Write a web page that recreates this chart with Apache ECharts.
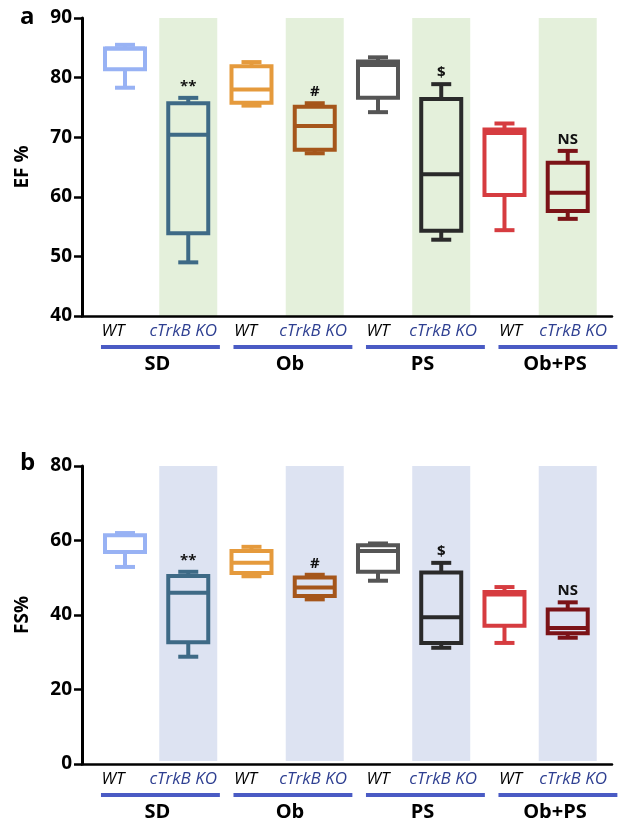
<!DOCTYPE html>
<html><head><meta charset="utf-8">
<script src="https://cdn.jsdelivr.net/npm/echarts@6/dist/echarts.min.js"></script>
<style>html,body{margin:0;padding:0;background:#fff}#c{width:622px;height:824px}</style>
</head><body><div id="c"></div>
<script>
// ---------- data ----------
const categories = ['WT','cTrkB KO','WT','cTrkB KO','WT','cTrkB KO','WT','cTrkB KO'];
const groups = ['SD','Ob','PS','Ob+PS'];
const annotations = ['', '**', '', '#', '', '$', '', 'NS'];
const efTicks = [40, 50, 60, 70, 80, 90];
const fsTicks = [0, 20, 40, 60, 80];
// [min, Q1, median, Q3, max]
const efBoxes = [
  [78.3, 81.4, 84.9, 84.9, 85.5],
  [49.0, 53.9, 70.4, 75.7, 76.6],
  [75.3, 75.8, 78.0, 81.9, 82.6],
  [67.3, 67.9, 71.9, 75.1, 75.7],
  [74.2, 76.6, 82.1, 82.7, 83.4],
  [52.8, 54.3, 63.8, 76.4, 78.9],
  [54.4, 60.3, 70.7, 71.3, 72.3],
  [56.3, 57.6, 60.7, 65.7, 67.7]
];
const fsBoxes = [
  [52.9, 56.9, 56.9, 61.4, 62.0],
  [28.8, 32.7, 46.0, 50.5, 51.6],
  [50.4, 51.3, 54.0, 57.2, 58.3],
  [44.2, 45.1, 47.4, 50.1, 50.8],
  [49.2, 51.6, 57.2, 58.7, 59.2],
  [31.2, 32.5, 39.4, 51.4, 54.0],
  [32.5, 37.1, 45.5, 46.2, 47.5],
  [33.9, 35.1, 36.5, 41.5, 43.4]
];
const koIndices = [1, 3, 5, 7];

// ---------- layout / styles ----------
const boxColors = ['#98b2f4','#3e6a86','#e59a3c','#a5561b','#555555','#2a2a2a','#d63c40','#7b1317'];
const FONT = '"Open Sans", "Liberation Sans", sans-serif';
const underlineColor = '#4a5bc4';
const koLabelColor = '#2e3f91';
// group underline spacing (axis units)
const GROUP_STEP = 2.095, GROUP_START = -0.38, GROUP_LEN = 1.88;
// category label offsets from group start (axis units)
const LABEL_OFF = [0.19, 1.30];
const labelPos = categories.map((c, i) => GROUP_START + Math.floor(i / 2) * GROUP_STEP + LABEL_OFF[i % 2] - (i % 2) * Math.floor(i / 2) * 0.04);

const chart = echarts.init(document.getElementById('c'), null, {renderer: 'canvas'});

function boxRender(params, api) {
  const x = api.value(0);
  const c = v => api.coord([x, v]);
  const cx = c(api.value(1))[0];
  const yMin = c(api.value(1))[1], yQ1 = c(api.value(2))[1], yMed = c(api.value(3))[1];
  const yQ3 = c(api.value(4))[1], yMax = c(api.value(5))[1];
  const color = boxColors[params.dataIndex];
  const bw = 20, cw = 10;
  const ls = {stroke: color, lineWidth: 4, fill: null};
  return {type: 'group', children: [
    {type: 'line', shape: {x1: cx, y1: yQ3, x2: cx, y2: yMax}, style: ls},
    {type: 'line', shape: {x1: cx, y1: yQ1, x2: cx, y2: yMin}, style: ls},
    {type: 'line', shape: {x1: cx - cw, y1: yMax, x2: cx + cw, y2: yMax}, style: ls},
    {type: 'line', shape: {x1: cx - cw, y1: yMin, x2: cx + cw, y2: yMin}, style: ls},
    {type: 'rect', shape: {x: cx - bw, y: yQ3, width: 2 * bw, height: yQ1 - yQ3}, style: {stroke: color, lineWidth: 4, fill: 'transparent'}},
    {type: 'line', shape: {x1: cx - bw, y1: yMed, x2: cx + bw, y2: yMed}, style: ls},
    {type: 'text', style: {text: annotations[params.dataIndex], x: cx, y: yMax - 4, align: 'center', verticalAlign: 'bottom', font: 'bold 15px ' + FONT, fill: '#111'}}
  ]};
}

function makeBandRender(top, bottom, color) {
  return function (params, api) {
    const x = api.value(0);
    const p1 = api.coord([x, top]);
    const p2 = api.coord([x, bottom]);
    return {type: 'rect', shape: {x: p1[0] - 29, y: p1[1], width: 58, height: p2[1] - p1[1]}, style: {fill: color}};
  };
}

function makeGroupRender(yAxisMin) {
  return function (params, api) {
    const g = api.value(0);
    const s = GROUP_START + g * GROUP_STEP;
    const a = api.coord([s, yAxisMin]);
    const b = api.coord([s + GROUP_LEN, yAxisMin]);
    const y = a[1] + 31;
    return {type: 'group', children: [
      {type: 'line', shape: {x1: a[0], y1: y, x2: b[0], y2: y}, style: {stroke: underlineColor, lineWidth: 4}},
      {type: 'text', style: {text: groups[g], x: (a[0] + b[0]) / 2 - 3, y: a[1] + 48, align: 'center', verticalAlign: 'middle', font: 'bold 20px ' + FONT, fill: '#000'}}
    ]};
  };
}

function xAxisCfg(gi) {
  return {
    type: 'value', gridIndex: gi, min: -0.68, max: 7.7, z: 5,
    axisLine: {show: true, onZero: false, lineStyle: {color: '#000', width: 2.5}},
    axisTick: {show: false}, splitLine: {show: false},
    axisLabel: {
      customValues: labelPos, margin: 7,
      formatter: v => {
        let best = 0;
        labelPos.forEach((p, i) => { if (Math.abs(p - v) < Math.abs(labelPos[best] - v)) best = i; });
        return best % 2 === 0 ? '{wt|' + categories[best] + '}' : '{ko|' + categories[best] + '}';
      },
      rich: {
        wt: {fontSize: 17, fontStyle: 'italic', color: '#000', fontFamily: FONT},
        ko: {fontSize: 17, fontStyle: 'italic', color: koLabelColor, fontFamily: FONT}
      }
    }
  };
}

function yAxisCfg(gi, ticks, name) {
  return {
    type: 'value', gridIndex: gi, min: ticks[0], max: ticks[ticks.length - 1], interval: ticks[1] - ticks[0], z: 5,
    axisLine: {show: true, onZero: false, lineStyle: {color: '#000', width: 3}},
    axisTick: {show: true, length: 8, lineStyle: {color: '#000', width: 2.5}},
    axisLabel: {fontSize: 19, fontWeight: 'bold', color: '#000', margin: 10, fontFamily: FONT},
    splitLine: {show: false},
    name: name, nameLocation: 'middle', nameGap: 50,
    nameTextStyle: {fontSize: 19, fontWeight: 'bold', color: '#000', fontFamily: FONT}
  };
}

const option = {
  animation: false,
  backgroundColor: '#fff',
  title: [
    {text: 'a', left: 15, top: 0, textStyle: {fontSize: 24, fontWeight: 'bold', color: '#000', fontFamily: FONT}},
    {text: 'b', left: 15, top: 446, textStyle: {fontSize: 24, fontWeight: 'bold', color: '#000', fontFamily: FONT}}
  ],
  grid: [
    {left: 82, top: 18, width: 530, height: 298},
    {left: 82, top: 466, width: 530, height: 298}
  ],
  xAxis: [xAxisCfg(0), xAxisCfg(1)],
  yAxis: [yAxisCfg(0, efTicks, 'EF %'), yAxisCfg(1, fsTicks, 'FS%')],
  series: [
    {type: 'custom', name: 'bandsA', xAxisIndex: 0, yAxisIndex: 0, z: 1, silent: true,
     renderItem: makeBandRender(90, 40, '#e4f0db'), data: koIndices.map(i => [i]), encode: {x: 0}},
    {type: 'custom', name: 'bandsB', xAxisIndex: 1, yAxisIndex: 1, z: 1, silent: true,
     renderItem: makeBandRender(80, 0.8, '#dde3f2'), data: koIndices.map(i => [i]), encode: {x: 0}},
    {type: 'custom', name: 'EF', xAxisIndex: 0, yAxisIndex: 0, z: 3,
     renderItem: boxRender, data: efBoxes.map((b, i) => [i].concat(b)), encode: {x: 0, y: [1, 2, 3, 4, 5]}},
    {type: 'custom', name: 'FS', xAxisIndex: 1, yAxisIndex: 1, z: 3,
     renderItem: boxRender, data: fsBoxes.map((b, i) => [i].concat(b)), encode: {x: 0, y: [1, 2, 3, 4, 5]}},
    {type: 'custom', name: 'groupsA', xAxisIndex: 0, yAxisIndex: 0, z: 3, silent: true,
     renderItem: makeGroupRender(efTicks[0]), data: groups.map((g, i) => [i]), encode: {x: 0}},
    {type: 'custom', name: 'groupsB', xAxisIndex: 1, yAxisIndex: 1, z: 3, silent: true,
     renderItem: makeGroupRender(fsTicks[0]), data: groups.map((g, i) => [i]), encode: {x: 0}}
  ]
};
chart.setOption(option);
</script>
</body></html>
